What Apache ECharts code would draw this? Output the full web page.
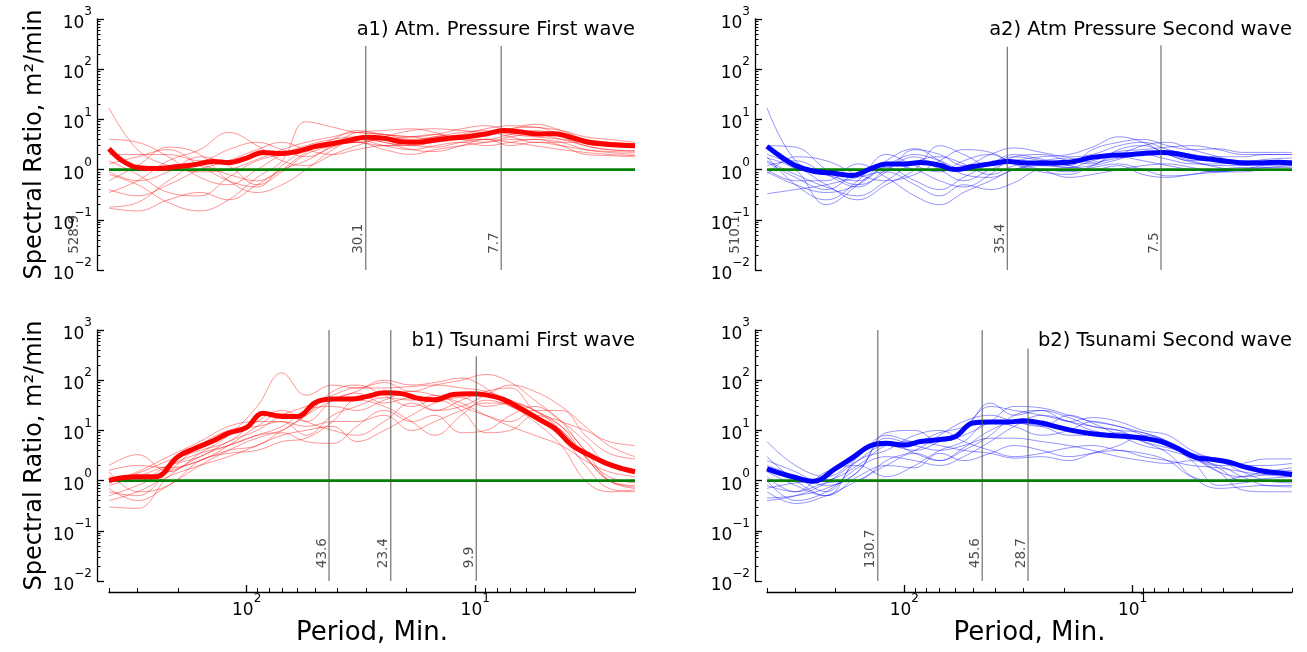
<!DOCTYPE html>
<html>
<head>
<meta charset="utf-8">
<script src="https://cdn.jsdelivr.net/npm/echarts@6/dist/echarts.min.js"></script>
<style>
  html, body { margin: 0; padding: 0; background: #fff; }
  #chart { width: 1307px; height: 652px; }
</style>
</head>
<body>
<div id="chart"></div>
<script>
// x = period (min), y = spectral ratio
const periods = [400, 350, 300, 250, 200, 170, 140, 120, 100, 85, 70, 60, 50, 42, 35, 30, 25, 21, 18, 15, 12.5, 10.5, 9, 7.5, 6.3, 5.3, 4.5, 3.8, 3.2, 2.7, 2.3, 2];
const thinPeriods = [400, 300, 220, 160, 120, 90, 70, 55, 42, 33, 25, 19, 15, 11.5, 9, 7, 5.5, 4.2, 3.3, 2.6, 2];

const majorX = [10, 100];
const minorX = [2, 3, 4, 5, 6, 7, 8, 9, 20, 30, 40, 50, 60, 70, 80, 90, 200, 300, 400];
const majorY = [0.01, 0.1, 1, 10, 100, 1000];

// a1) atm pressure, first wave
const a1Mean = [2.6, 1.5, 1.1, 1.05, 1.15, 1.25, 1.45, 1.38, 1.7, 2.2, 2.1, 2.3, 2.9, 3.3, 3.9, 4.4, 4.2, 3.6, 3.5, 3.9, 4.3, 4.6, 5.1, 6.0, 5.6, 5.1, 5.2, 4.4, 3.5, 3.2, 3.05, 3.0];
const a1Runs = [
  [17, 2.5, 1.2, 0.9, 1.0, 1.6, 2.5, 3.5, 4.5, 5.5, 5.0, 4.5, 5.0, 6.5, 7.5, 6.0, 5.5, 5.0, 3.8, 3.2, 3.0],
  [4.0, 3.5, 1.8, 0.7, 0.5, 1.0, 2.0, 3.0, 4.0, 4.5, 3.5, 3.0, 3.5, 4.0, 5.0, 6.5, 7.0, 5.0, 4.0, 3.5, 3.2],
  [2.0, 2.0, 2.0, 1.5, 2.5, 3.5, 2.5, 1.8, 3.0, 5.5, 6.0, 6.5, 5.5, 4.0, 4.0, 5.0, 6.0, 4.5, 3.0, 2.5, 2.4],
  [1.5, 0.8, 0.35, 0.3, 0.7, 1.5, 2.0, 2.5, 3.0, 4.0, 3.0, 2.5, 3.0, 3.5, 3.0, 3.5, 4.0, 3.5, 2.5, 2.2, 2.0],
  [1.3, 1.8, 2.5, 1.2, 0.6, 0.45, 1.2, 2.5, 3.5, 3.5, 3.0, 3.5, 4.5, 5.5, 6.0, 5.0, 4.5, 4.0, 3.5, 3.0, 2.8],
  [0.9, 0.6, 0.9, 1.8, 1.2, 0.5, 0.9, 2.0, 3.0, 3.5, 4.0, 4.5, 5.0, 4.0, 3.5, 4.0, 4.0, 3.0, 2.0, 1.9, 1.8],
  [0.8, 0.5, 0.22, 0.15, 0.25, 0.7, 1.5, 9.0, 7.0, 5.5, 5.0, 4.0, 4.5, 5.0, 6.5, 7.5, 7.0, 6.0, 4.5, 4.0, 3.5],
  [0.6, 1.2, 2.8, 2.0, 0.6, 0.35, 0.5, 1.0, 2.5, 4.0, 3.5, 2.5, 2.3, 3.0, 4.0, 3.5, 3.0, 2.5, 2.2, 2.0, 1.9],
  [0.4, 0.3, 0.5, 1.0, 1.5, 2.5, 3.5, 2.5, 2.0, 2.5, 3.0, 3.0, 2.8, 3.5, 4.0, 3.0, 3.5, 3.0, 2.5, 2.3, 2.2],
  [0.35, 0.6, 1.5, 2.5, 5.5, 3.0, 1.5, 1.2, 2.0, 3.0, 4.5, 6.0, 6.5, 6.0, 5.5, 6.5, 8.0, 6.0, 4.0, 3.5, 3.3],
  [0.18, 0.22, 0.6, 1.2, 0.8, 0.6, 1.0, 1.5, 2.8, 3.5, 2.5, 2.0, 2.5, 3.0, 3.5, 4.5, 5.0, 4.0, 3.0, 2.5, 2.3],
  [0.17, 0.15, 0.25, 0.35, 0.25, 0.5, 1.0, 2.2, 4.0, 6.0, 5.0, 4.5, 4.0, 4.5, 5.5, 4.5, 3.5, 3.5, 3.5, 3.0, 2.8]
];
const a1Marks = [528.9, 30.1, 7.7];
const a1Tops = [290, 290, 290];

// a2) atm pressure, second wave
const a2Mean = [2.9, 1.85, 1.2, 0.93, 0.84, 0.76, 1.05, 1.3, 1.3, 1.38, 1.22, 1.0, 1.15, 1.3, 1.45, 1.37, 1.35, 1.37, 1.45, 1.75, 1.92, 1.97, 2.1, 2.2, 2.05, 1.75, 1.6, 1.45, 1.36, 1.36, 1.4, 1.36];
const a2Runs = [
  [17, 1.5, 0.8, 0.6, 1.2, 2.0, 1.5, 1.0, 1.3, 1.8, 1.5, 1.2, 2.5, 3.5, 4.0, 3.0, 2.5, 2.6, 2.2, 2.2, 2.2],
  [3.0, 2.8, 1.0, 0.5, 0.9, 2.5, 2.0, 1.2, 2.0, 2.7, 2.2, 1.8, 2.0, 3.0, 3.5, 2.5, 2.0, 1.8, 1.8, 2.0, 2.0],
  [2.0, 1.2, 0.5, 0.25, 0.5, 1.0, 3.0, 2.0, 1.2, 1.5, 1.8, 2.0, 2.8, 4.5, 3.5, 2.0, 1.5, 1.6, 1.5, 1.5, 1.5],
  [1.7, 1.0, 0.2, 0.5, 1.5, 2.6, 1.5, 0.8, 0.7, 1.0, 1.2, 1.1, 1.5, 2.0, 3.0, 3.5, 2.5, 1.8, 1.3, 1.3, 1.3],
  [1.4, 0.7, 0.4, 0.9, 1.3, 1.0, 0.6, 0.45, 0.8, 1.8, 2.0, 1.5, 1.3, 2.5, 3.0, 2.0, 1.4, 1.2, 1.2, 1.3, 1.3],
  [1.0, 0.6, 0.6, 1.3, 0.7, 0.3, 0.2, 0.35, 0.6, 1.0, 1.3, 1.1, 1.2, 1.6, 2.2, 2.0, 1.5, 1.1, 1.0, 1.1, 1.2],
  [0.8, 1.8, 1.5, 0.8, 0.6, 0.8, 1.5, 2.5, 2.2, 1.3, 0.9, 0.8, 1.2, 1.8, 1.5, 1.2, 1.0, 0.9, 1.0, 1.2, 1.2],
  [0.33, 0.4, 0.5, 0.7, 0.9, 0.5, 0.3, 0.5, 0.4, 0.55, 1.0, 0.9, 1.1, 1.3, 1.0, 0.75, 0.8, 1.0, 1.1, 1.1, 1.1],
  [1.8, 0.5, 0.25, 0.6, 2.0, 1.2, 0.9, 1.5, 2.0, 1.3, 1.0, 0.7, 0.8, 1.0, 1.2, 1.3, 1.1, 0.9, 0.9, 1.0, 1.0],
  [1.2, 1.5, 0.8, 0.45, 1.0, 1.8, 1.0, 0.6, 1.0, 1.4, 1.2, 1.3, 1.7, 2.3, 2.5, 2.8, 3.0, 2.5, 2.0, 2.0, 2.0],
  [0.9, 0.5, 0.35, 0.5, 1.1, 0.6, 0.4, 0.7, 1.3, 2.0, 1.6, 1.2, 1.0, 1.2, 0.8, 0.7, 0.8, 0.9, 1.0, 1.0, 1.0],
  [1.5, 0.8, 0.45, 0.3, 0.6, 1.4, 1.8, 1.3, 0.8, 1.2, 1.5, 1.7, 1.4, 1.7, 2.0, 1.6, 1.3, 1.3, 1.4, 1.6, 1.7]
];
const a2Marks = [510.1, 35.4, 7.5];
const a2Tops = [280, 280, 300];

// b1) tsunami, first wave
const b1Mean = [1.0, 1.14, 1.2, 1.2, 3.0, 4.3, 6.2, 8.8, 11.5, 22, 19, 19, 36, 42, 42, 47, 56, 54, 44, 41, 52, 54, 51, 41, 27, 17, 11, 5.2, 3.3, 2.25, 1.75, 1.5];
const b1Runs = [
  [2.0, 3.3, 1.5, 3.5, 8.0, 30, 140, 50, 80, 70, 90, 60, 80, 100, 130, 90, 40, 15, 4.0, 2.0, 1.5],
  [0.3, 0.28, 1.2, 3.0, 5.0, 8.0, 10, 20, 40, 60, 100, 80, 90, 110, 70, 30, 20, 10, 3.0, 1.2, 0.9],
  [0.6, 0.5, 1.5, 5.0, 10, 12, 15, 8.0, 20, 30, 45, 40, 50, 30, 20, 15, 25, 25, 8.0, 3.5, 2.7],
  [1.0, 1.4, 2.5, 4.0, 6.0, 15, 25, 15, 10, 8.0, 15, 35, 25, 40, 60, 70, 25, 15, 10, 6.0, 5.0],
  [0.5, 0.8, 1.5, 2.5, 4.0, 5.0, 10, 20, 60, 80, 50, 30, 40, 25, 9.0, 10, 20, 12, 4.0, 1.0, 0.7],
  [1.5, 0.6, 0.8, 2.5, 3.5, 4.0, 6.0, 7.0, 15, 40, 30, 15, 8.0, 20, 40, 30, 15, 5.0, 1.0, 0.6, 0.65],
  [0.8, 1.2, 2.0, 3.0, 6.0, 10, 20, 30, 50, 70, 70, 75, 80, 70, 60, 40, 25, 10, 3.0, 1.0, 0.8],
  [0.4, 0.6, 1.2, 2.0, 3.0, 5.0, 8.0, 10, 12, 6.0, 10, 20, 35, 45, 30, 35, 20, 8.0, 2.0, 0.7, 0.6],
  [1.2, 1.0, 2.0, 3.5, 5.0, 8.0, 12, 25, 30, 25, 40, 60, 50, 35, 20, 12, 8.0, 5.0, 2.5, 1.5, 1.2],
  [0.9, 1.5, 3.0, 6.0, 12, 15, 15, 12, 15, 15, 20, 10, 15, 25, 35, 35, 25, 12, 3.0, 1.0, 0.75],
  [0.7, 0.4, 0.8, 2.0, 4.0, 7.0, 9.0, 6.0, 5.5, 12, 25, 15, 20, 9.0, 10, 20, 30, 15, 6.0, 2.0, 1.5],
  [1.6, 2.0, 1.8, 2.5, 5.0, 12, 22, 15, 40, 55, 35, 45, 25, 30, 50, 80, 60, 30, 12, 5.0, 3.0]
];
const b1Marks = [43.6, 23.4, 9.9];
const b1Tops = [1000, 1000, 300];

// b2) tsunami, second wave
const b2Mean = [1.72, 1.4, 1.15, 0.97, 1.75, 2.8, 5.0, 5.55, 5.1, 6.0, 6.6, 7.5, 14, 14.7, 14.7, 15.6, 14, 11.5, 9.8, 8.6, 7.9, 7.6, 7.0, 6.0, 4.3, 2.9, 2.65, 2.35, 1.85, 1.55, 1.43, 1.32];
const b2Runs = [
  [6.0, 2.0, 1.2, 3.0, 8.0, 6.0, 9.0, 12, 30, 25, 20, 15, 12, 10, 9.0, 6.0, 3.0, 2.0, 2.2, 2.7, 2.7],
  [0.4, 0.5, 0.9, 2.5, 5.0, 4.0, 6.0, 10, 35, 20, 25, 15, 18, 15, 10, 8.0, 4.0, 2.5, 1.8, 1.5, 1.6],
  [2.5, 1.5, 0.8, 1.5, 9.0, 10, 6.0, 8.0, 15, 30, 28, 20, 15, 12, 8.0, 5.0, 3.0, 1.5, 1.2, 1.3, 1.5],
  [1.0, 0.4, 0.6, 1.8, 3.0, 2.5, 2.0, 3.0, 6.0, 12, 20, 15, 10, 8.0, 7.0, 5.0, 2.5, 0.8, 0.9, 1.0, 1.0],
  [0.6, 0.35, 0.5, 1.0, 2.0, 3.5, 2.5, 4.0, 8.0, 20, 25, 18, 12, 10, 6.0, 3.5, 1.2, 0.7, 0.75, 0.8, 0.8],
  [1.5, 0.8, 0.5, 1.2, 2.0, 1.8, 3.5, 2.5, 3.5, 5.0, 4.0, 3.0, 3.5, 4.0, 3.0, 2.5, 2.0, 1.8, 1.5, 1.3, 1.2],
  [0.8, 0.6, 1.5, 2.0, 1.2, 2.0, 4.0, 6.0, 15, 12, 8.0, 10, 15, 12, 9.0, 6.0, 3.0, 1.5, 0.65, 0.6, 0.6],
  [2.0, 1.2, 0.6, 2.5, 4.0, 8.0, 10, 6.0, 4.0, 3.0, 3.5, 4.5, 5.0, 4.0, 3.5, 2.5, 1.2, 1.0, 1.2, 1.5, 1.8],
  [0.45, 0.5, 0.7, 1.5, 7.0, 5.0, 4.0, 5.0, 7.0, 7.0, 6.0, 5.0, 4.0, 3.0, 2.5, 2.2, 2.5, 2.0, 1.2, 0.8, 0.75],
  [1.2, 0.6, 0.9, 1.0, 2.5, 4.0, 8.0, 15, 20, 15, 12, 20, 14, 8.0, 5.0, 4.0, 3.0, 2.5, 2.0, 2.0, 2.2],
  [0.7, 0.9, 1.0, 2.0, 5.0, 6.0, 5.0, 4.0, 3.5, 2.8, 3.0, 2.5, 3.5, 5.0, 8.0, 6.0, 3.5, 1.8, 1.0, 1.1, 1.2],
  [3.0, 1.0, 0.5, 3.0, 6.0, 3.5, 2.5, 4.5, 10, 14, 12, 8.0, 8.0, 9.0, 6.0, 4.5, 3.5, 2.5, 1.5, 1.0, 0.9]
];
const b2Marks = [130.7, 45.6, 28.7];
const b2Tops = [1000, 1000, 425];

const FONT = 'DejaVu Sans';
const RED = '#ff0000', BLUE = '#0000ff';

const panels = [
  { title: 'a1) Atm. Pressure First wave', mean: a1Mean, runs: a1Runs, marks: a1Marks, tops: a1Tops, color: RED, thin: 'rgba(255,0,0,0.42)', left: 109, right: 672, top: 19, bottomRow: false, yName: true },
  { title: 'a2) Atm Pressure Second wave', mean: a2Mean, runs: a2Runs, marks: a2Marks, tops: a2Tops, color: BLUE, thin: 'rgba(0,0,255,0.42)', left: 767, right: 15, top: 19, bottomRow: false, yName: false },
  { title: 'b1) Tsunami First wave', mean: b1Mean, runs: b1Runs, marks: b1Marks, tops: b1Tops, color: RED, thin: 'rgba(255,0,0,0.42)', left: 109, right: 672, top: 330, bottomRow: true, yName: true },
  { title: 'b2) Tsunami Second wave', mean: b2Mean, runs: b2Runs, marks: b2Marks, tops: b2Tops, color: BLUE, thin: 'rgba(0,0,255,0.42)', left: 767, right: 15, top: 330, bottomRow: true, yName: false }
];

// matplotlib-like minor ticks: 2..9 in every decade
const minorY = [];
for (let e = -2; e < 3; e++) {
  for (let m = 2; m < 10; m++) minorY.push(+(m * Math.pow(10, e)).toPrecision(3));
}

function pow10Label(v) {
  const e = Math.round(Math.log10(v));
  return '{b|10}{s|' + (e < 0 ? '\u2212' + (-e) : e) + '}';
}
const rich = {
  b: { fontSize: 17, fontFamily: FONT, color: '#000', lineHeight: 26, verticalAlign: 'bottom' },
  s: { fontSize: 12, fontFamily: FONT, color: '#000', lineHeight: 12, verticalAlign: 'top' }
};

const chart = echarts.init(document.getElementById('chart'));
const grid = [], xAxis = [], yAxis = [], title = [], series = [];

panels.forEach((p, i) => {
  grid.push({ left: p.left, right: p.right, top: p.top, height: 251 });
  title.push({
    text: p.title, right: p.right, top: p.top + 1, padding: 0,
    textStyle: { fontFamily: FONT, fontSize: 19.5, fontWeight: 'normal', color: '#000' }
  });

  const xBase = { gridIndex: i, type: 'log', logBase: 10, min: 2, max: 400, inverse: true, splitLine: { show: false }, position: 'bottom', offset: 11 };
  xAxis.push(Object.assign({}, xBase, {
    show: p.bottomRow,
    axisLine: { show: true, lineStyle: { color: '#000', width: 1.3 } },
    axisTick: { show: true, inside: true, length: 7, customValues: majorX, lineStyle: { color: '#000', width: 1.3 } },
    axisLabel: { show: true, customValues: majorX, formatter: pow10Label, rich: rich, margin: 1 },
    name: 'Period, Min.', nameLocation: 'middle', nameGap: 25,
    nameTextStyle: { fontFamily: FONT, fontSize: 26, color: '#000' }
  }));
  xAxis.push(Object.assign({}, xBase, {
    show: p.bottomRow,
    axisLine: { show: false },
    axisTick: { show: true, inside: true, length: 4, customValues: minorX, lineStyle: { color: '#000', width: 1 } },
    axisLabel: { show: false }
  }));

  const yBase = { gridIndex: i, type: 'log', logBase: 10, min: 0.01, max: 1000, position: 'left', offset: 12, splitLine: { show: false } };
  yAxis.push(Object.assign({}, yBase, {
    axisLine: { show: true, lineStyle: { color: '#000', width: 1.3 } },
    axisTick: { show: true, inside: true, length: 7, customValues: majorY, lineStyle: { color: '#000', width: 1.3 } },
    axisLabel: { show: true, customValues: majorY, formatter: pow10Label, rich: rich, margin: 5 },
    name: p.yName ? 'Spectral Ratio, m\u00b2/min' : '', nameLocation: 'middle', nameGap: 50,
    nameTextStyle: { fontFamily: FONT, fontSize: 24, color: '#000' }
  }));
  yAxis.push(Object.assign({}, yBase, {
    axisLine: { show: false },
    axisTick: { show: true, inside: true, length: 3.5, customValues: minorY, lineStyle: { color: '#000', width: 1 } },
    axisLabel: { show: false }
  }));

  const ax = 2 * i;
  p.runs.forEach(run => {
    series.push({
      type: 'line', xAxisIndex: ax, yAxisIndex: ax, silent: true, symbol: 'none', smooth: 0.4, z: 2,
      data: thinPeriods.map((x, k) => [x, run[k]]),
      lineStyle: { color: p.thin, width: 1 }
    });
  });
  series.push({
    type: 'line', xAxisIndex: ax, yAxisIndex: ax, silent: true, symbol: 'none', z: 3,
    data: [[400, 1], [2, 1]],
    lineStyle: { color: '#008000', width: 2.6 }
  });
  series.push({
    type: 'line', xAxisIndex: ax, yAxisIndex: ax, silent: true, symbol: 'none', smooth: 0.4, z: 4,
    data: periods.map((x, k) => [x, p.mean[k]]),
    lineStyle: { color: p.color, width: 5 }
  });
  p.marks.forEach((m, k) => {
    series.push({
      type: 'line', xAxisIndex: ax, yAxisIndex: ax, silent: true, symbol: 'none', z: 5,
      data: [[m, 0.01], [m, p.tops[k]]],
      lineStyle: { color: '#555', width: 1 }
    });
  });
  series.push({
    type: 'scatter', xAxisIndex: ax, yAxisIndex: ax, silent: true, clip: false, symbolSize: 0, z: 6,
    data: p.marks.map(m => [m, p.bottomRow ? 0.018 : 0.021, String(m)]),
    label: {
      show: true, position: 'inside', rotate: 90, align: 'left', verticalAlign: 'bottom', offset: [0, 0],
      formatter: d => d.value[2], fontFamily: FONT, fontSize: 13.5, color: '#222'
    }
  });
});

chart.setOption({
  animation: false,
  backgroundColor: '#fff',
  title, grid, xAxis, yAxis, series
});
</script>
</body>
</html>
